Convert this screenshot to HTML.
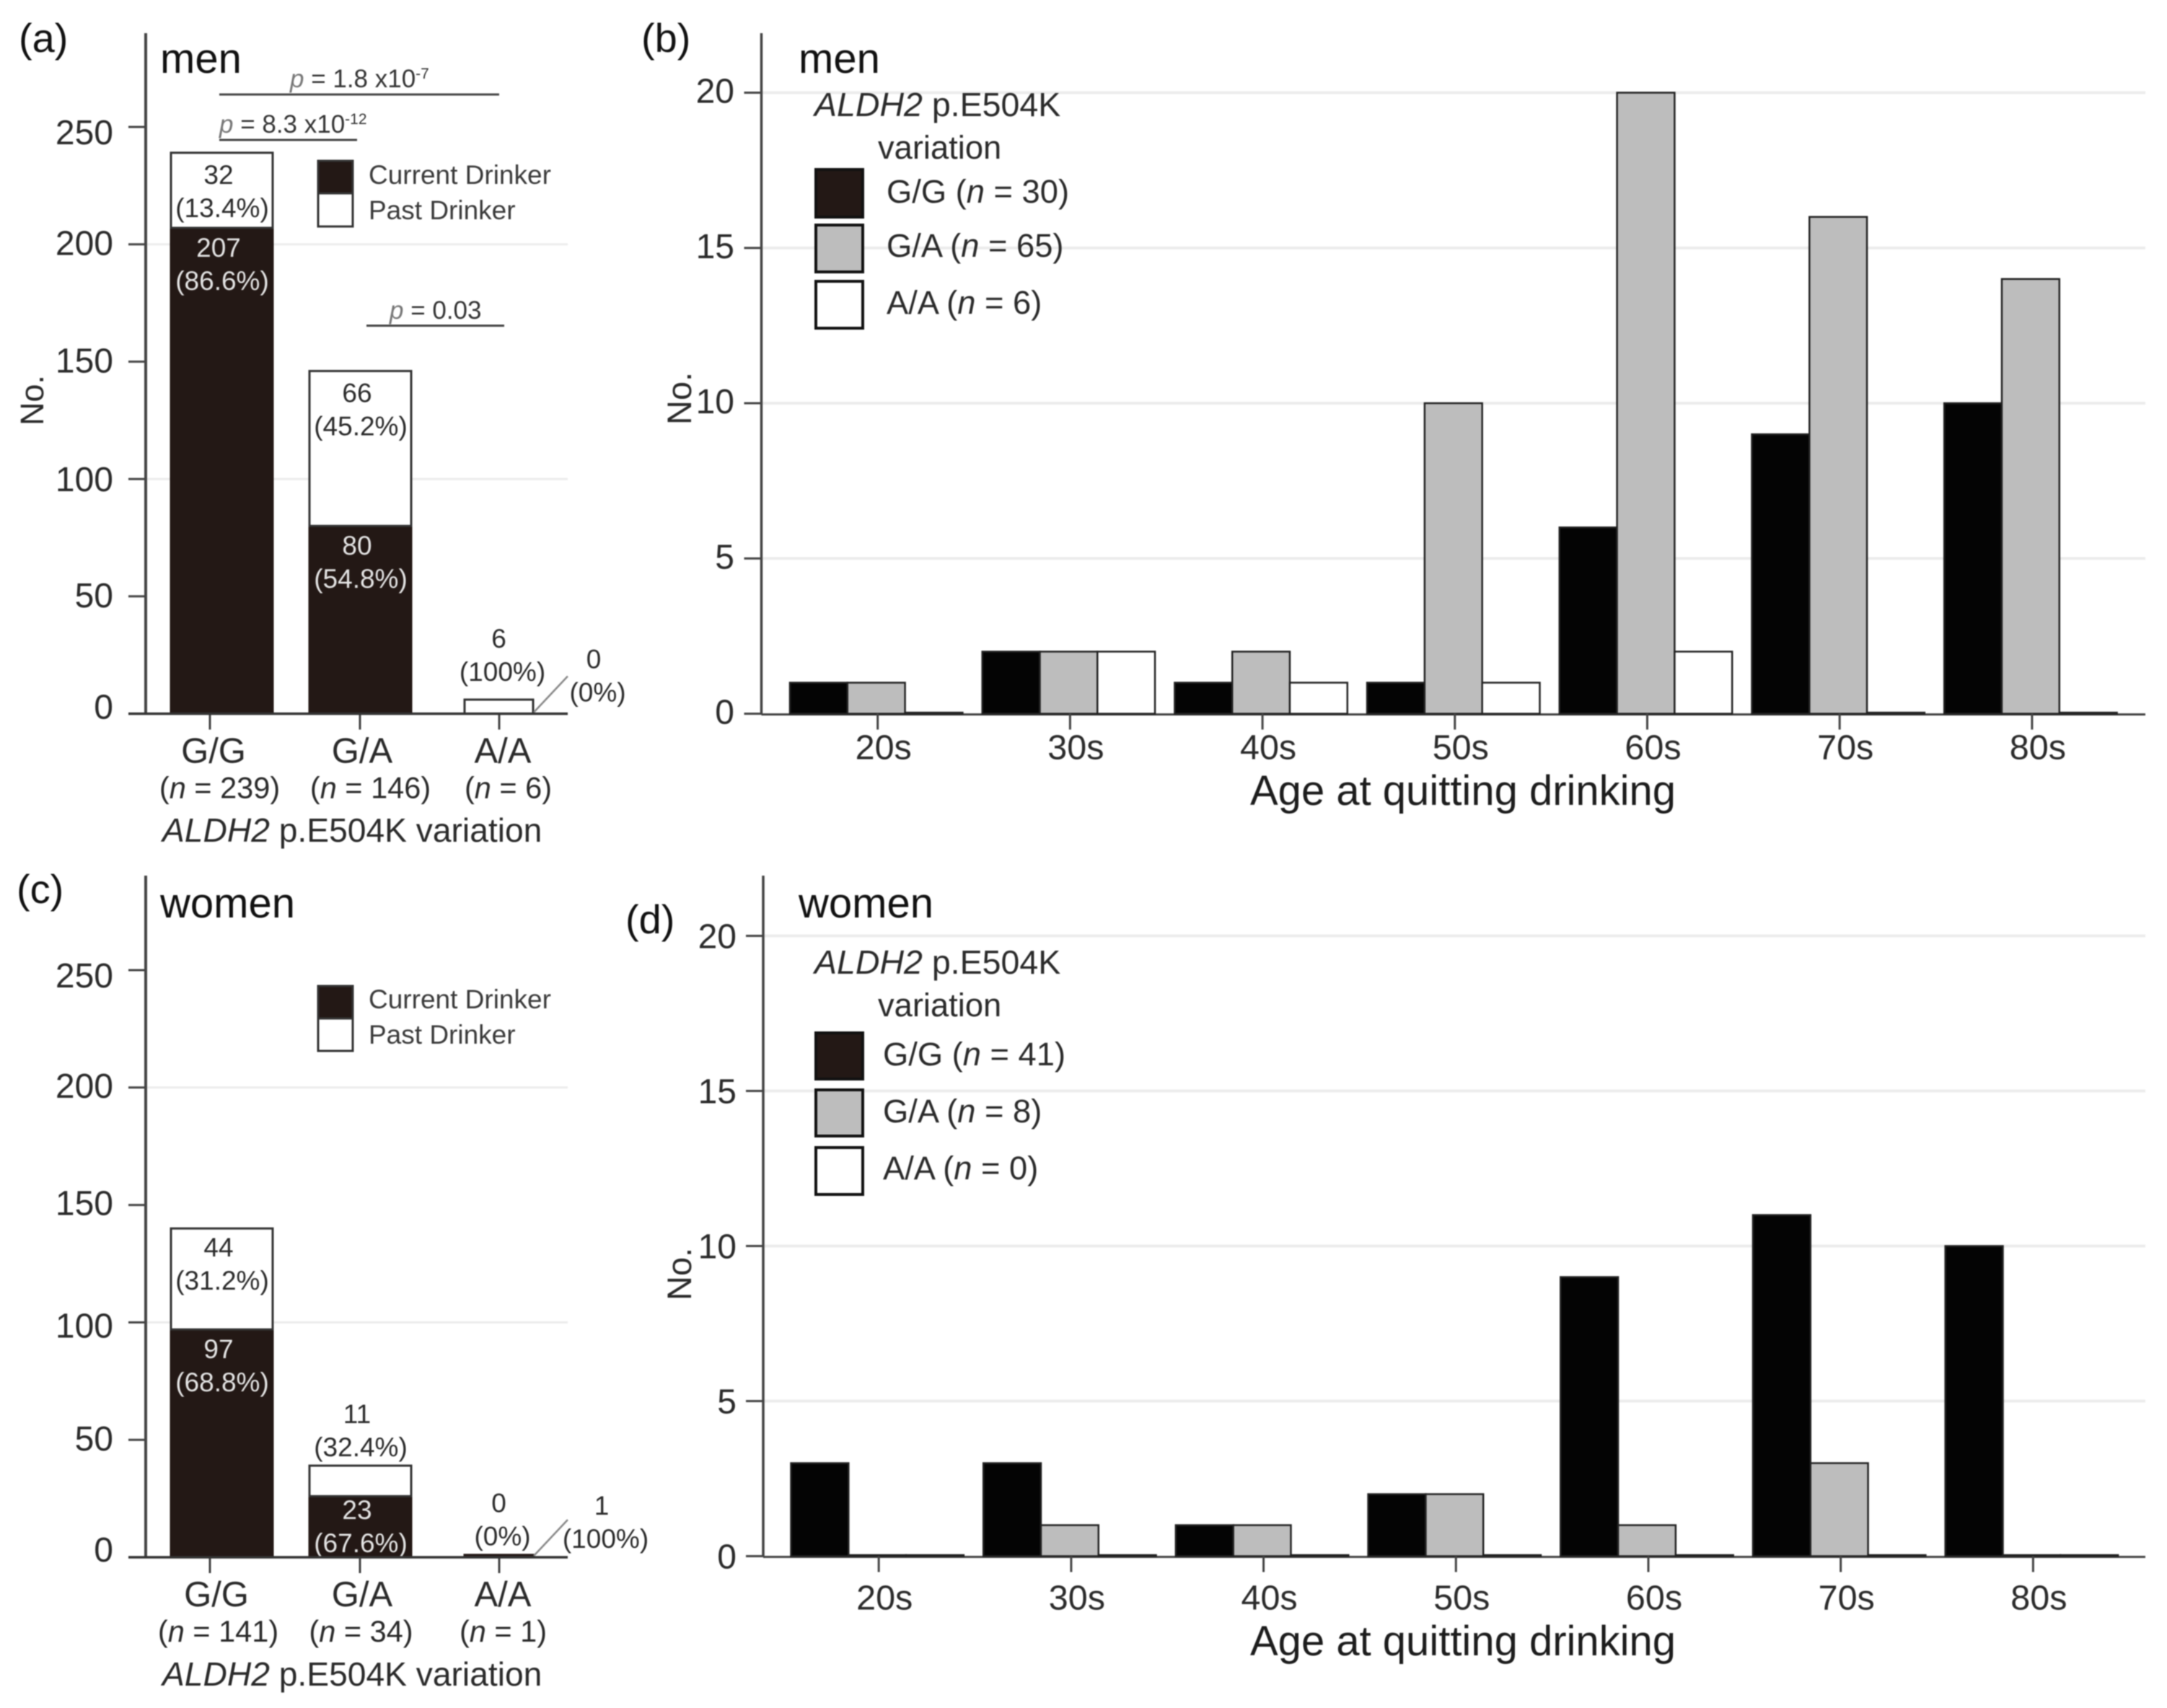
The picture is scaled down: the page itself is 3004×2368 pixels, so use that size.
<!DOCTYPE html>
<html lang="en">
<head>
<meta charset="utf-8">
<title>ALDH2 p.E504K variation and drinking status</title>
<style>
html,body{margin:0;padding:0;background:#fff;}
svg{display:block;filter:blur(0.8px);}
text{font-family:"Liberation Sans",Arial,sans-serif;fill:#2a2a2a;}
.big{font-size:58px;fill:#111;}
.panel{font-size:56px;fill:#111;}
.axis-title{font-size:46.2px;}
.age-title{font-size:58px;fill:#1c1c1c;}
.legend{font-size:37px;fill:#3a3a3a;}
.glegend{font-size:45.3px;}
.gtitle{font-size:46.5px;}
.pv{font-size:35px;fill:#333;}
.pv .it{font-style:italic;fill:#777;}
.pv .sup{font-size:21px;}
.it{font-style:italic;}
</style>
</head>
<body>
<svg id="chart" xmlns="http://www.w3.org/2000/svg" width="3004" height="2368" viewBox="0 0 3004 2368">
  <rect x="0" y="0" width="3004" height="2368" fill="#fff"/>
  <g id="layer-a"></g>
  <g id="layer-b"></g>
  <g id="layer-c"></g>
  <g id="layer-d"></g>

  <text class="panel" x="26" y="72">(a)</text>
  <text class="panel" x="889" y="72">(b)</text>
  <text class="panel" x="23" y="1252">(c)</text>
  <text class="panel" x="867" y="1294">(d)</text>

  <text class="big" x="222" y="101">men</text>
  <text class="big" x="1107" y="101">men</text>
  <text class="big" x="222" y="1272">women</text>
  <text class="big" x="1107" y="1272">women</text>

  <text class="axis-title" x="225" y="1167"><tspan class="it">ALDH2</tspan> p.E504K variation</text>
  <text class="axis-title" x="225" y="2337"><tspan class="it">ALDH2</tspan> p.E504K variation</text>
  <text class="age-title" x="1733" y="1116">Age at quitting drinking</text>
  <text class="age-title" x="1733" y="2295">Age at quitting drinking</text>

  <text font-size="45" transform="translate(60 590) rotate(-90)">No.</text>
  <text font-size="47" transform="translate(958 589) rotate(-90)">No.</text>
  <text font-size="47" transform="translate(958 1803) rotate(-90)">No.</text>

  <g stroke="#444" stroke-width="3">
    <line x1="304" y1="131" x2="692" y2="131"/>
    <line x1="304" y1="194" x2="495" y2="194"/>
    <line x1="508" y1="451.5" x2="699" y2="451.5"/>
  </g>
  <text class="pv" x="402" y="121"><tspan class="it">p</tspan> = 1.8 x10<tspan class="sup" dy="-12">-7</tspan></text>
  <text class="pv" x="304" y="184"><tspan class="it">p</tspan> = 8.3 x10<tspan class="sup" dy="-12">-12</tspan></text>
  <text class="pv" x="540" y="442"><tspan class="it">p</tspan> = 0.03</text>

  <g>
    <rect x="441" y="223" width="48" height="45" fill="#231815" stroke="#333" stroke-width="3"/>
    <rect x="441" y="268" width="48" height="46" fill="#fff" stroke="#333" stroke-width="3"/>
    <text class="legend" x="511" y="255">Current Drinker</text>
    <text class="legend" x="511" y="304">Past Drinker</text>
  </g>
  <g>
    <rect x="441" y="1367" width="48" height="45" fill="#231815" stroke="#333" stroke-width="3"/>
    <rect x="441" y="1412" width="48" height="45" fill="#fff" stroke="#333" stroke-width="3"/>
    <text class="legend" x="511" y="1398">Current Drinker</text>
    <text class="legend" x="511" y="1447">Past Drinker</text>
  </g>

  <g>
    <text class="gtitle" x="1129" y="161"><tspan class="it">ALDH2</tspan> p.E504K</text>
    <text class="glegend" x="1217" y="220">variation</text>
    <rect x="1131" y="235" width="65" height="66" fill="#231815" stroke="#111" stroke-width="4"/>
    <rect x="1131" y="312" width="65" height="65" fill="#bdbdbd" stroke="#111" stroke-width="4"/>
    <rect x="1131" y="390" width="65" height="65" fill="#fff" stroke="#111" stroke-width="4"/>
    <text class="glegend" x="1229" y="281">G/G (<tspan class="it">n</tspan> = 30)</text>
    <text class="glegend" x="1229" y="356">G/A (<tspan class="it">n</tspan> = 65)</text>
    <text class="glegend" x="1229" y="435">A/A (<tspan class="it">n</tspan> = 6)</text>
  </g>
  <g>
    <text class="gtitle" x="1129" y="1350"><tspan class="it">ALDH2</tspan> p.E504K</text>
    <text class="glegend" x="1217" y="1409">variation</text>
    <rect x="1131" y="1432" width="65" height="64" fill="#231815" stroke="#111" stroke-width="4"/>
    <rect x="1131" y="1511" width="65" height="64" fill="#bdbdbd" stroke="#111" stroke-width="4"/>
    <rect x="1131" y="1591" width="65" height="65" fill="#fff" stroke="#111" stroke-width="4"/>
    <text class="glegend" x="1224" y="1477">G/G (<tspan class="it">n</tspan> = 41)</text>
    <text class="glegend" x="1224" y="1556">G/A (<tspan class="it">n</tspan> = 8)</text>
    <text class="glegend" x="1224" y="1635">A/A (<tspan class="it">n</tspan> = 0)</text>
  </g>
</svg>
<script>
// ---- data ----
const genotypes = ['G/G', 'G/A', 'A/A'];
// heights as drawn in the picture
const menCurrent = [207, 80, 0];
const menPast = [32, 66, 6];
const womenCurrent = [97, 26, 1];
const womenPast = [43, 13, 0];
// counts as printed on the bars
const menCurrentPrinted = [207, 80, 0];
const menPastPrinted = [32, 66, 6];
const womenCurrentPrinted = [97, 23, 1];
const womenPastPrinted = [44, 11, 0];
const menCurrentPct = ['86.6', '54.8', '0'];
const menPastPct = ['13.4', '45.2', '100'];
const womenCurrentPct = ['68.8', '67.6', '100'];
const womenPastPct = ['31.2', '32.4', '0'];
const countTicks = [0, 50, 100, 150, 200, 250];
const countGrid = [100, 200];

const ageGroups = ['20s', '30s', '40s', '50s', '60s', '70s', '80s'];
const menGG = [1, 2, 1, 1, 6, 9, 10];
const menGA = [1, 2, 2, 10, 20, 16, 14];
const menAA = [0, 2, 1, 1, 2, 0, 0];
const womenGG = [3, 3, 1, 2, 9, 11, 10];
const womenGA = [0, 1, 1, 2, 1, 3, 0];
const womenAA = [0, 0, 0, 0, 0, 0, 0];
const ageTicks = [0, 5, 10, 15, 20];

// ---- helpers ----
const NS = 'http://www.w3.org/2000/svg';
function mk(parent, tag, attrs, txt) {
  const n = document.createElementNS(NS, tag);
  for (const k in attrs) n.setAttribute(k, attrs[k]);
  if (txt !== undefined) n.textContent = txt;
  parent.appendChild(n);
  return n;
}

function drawStacked(layer, cur, past, curPrinted, pastPrinted, curPct, pastPct, o) {
  const g = document.getElementById(layer);
  const y = v => o.base - v * o.unit;
  const x = i => 307.5 + 192 * i;
  const barW = i => (i === 2 ? 95 : 141);
  const tickShift = i => (i === 0 ? -16.5 : i === 1 ? -0.5 : 0.5);
  const labelShift = i => (i === 0 ? o.catShift : i === 1 ? 2.5 : 5.5);

  countGrid.forEach(v => {
    const l = mk(g, 'line', {x1: 202, x2: 787, y1: y(v), y2: y(v), stroke: '#ececec', 'stroke-width': 3});
    
    
  });
  const ya = mk(g, 'line', {x1: 202, x2: 202, y1: o.top, y2: o.base + 1, stroke: '#444', 'stroke-width': 4});
  
  

  countTicks.forEach((v, k) => {
    const tk = mk(g, 'line', {x1: 178, x2: 202, y1: y(v), y2: y(v), stroke: '#444', 'stroke-width': 3});
    
    
    const lb = mk(g, 'text', {x: 157, y: y(v) + o.tickNudge[k], 'text-anchor': 'end', 'font-size': 48}, String(v));
    
    
  });

  genotypes.forEach((name, i) => {
    const left = x(i) - barW(i) / 2;
    const total = cur[i] + past[i];
    const printedTotal = curPrinted[i] + pastPrinted[i];
    const b1 = mk(g, 'rect', {x: left, y: y(cur[i]), width: barW(i), height: cur[i] * o.unit, fill: '#231815', stroke: '#231815', 'stroke-width': 3});
    
    
    if (past[i] > 0) {
      const b2 = mk(g, 'rect', {x: left, y: y(total), width: barW(i), height: past[i] * o.unit, fill: '#fff', stroke: '#333', 'stroke-width': 3});
      
      
    }
    const curTop = y(cur[i]);
    const top = y(total);

    // past label
    const inside = past[i] * o.unit > 90;
    const shift = i === 2 ? 4.5 : 0;
    const pY1 = inside ? top + o.insideDown : top - o.aboveUp;
    const pc = mk(g, 'text', {x: x(i) - 4.5 + shift, y: pY1, 'text-anchor': 'middle', 'font-size': 37}, String(pastPrinted[i]));
    
    
    const pp = mk(g, 'text', {x: x(i) + 0.5 + shift, y: pY1 + 46, 'text-anchor': 'middle', 'font-size': 37}, '(' + pastPct[i] + '%)');
    
    

    // current label
    if (cur[i] * o.unit > 60) {
      const c1 = Math.min(curTop + 40, o.base - 53);
      const cc = mk(g, 'text', {x: x(i) - 4.5, y: c1, 'text-anchor': 'middle', 'font-size': 37, style: 'fill:#e4e4e4'}, String(curPrinted[i]));
      
      
      const cp = mk(g, 'text', {x: x(i) + 0.5, y: c1 + 46, 'text-anchor': 'middle', 'font-size': 37, style: 'fill:#e4e4e4'}, '(' + curPct[i] + '%)');
      
      
    } else {
      const cc = mk(g, 'text', {x: x(i) + o.sideDx, y: o.base - o.sideUp, 'text-anchor': 'middle', 'font-size': 37}, String(curPrinted[i]));
      
      
      const cp = mk(g, 'text', {x: x(i) + o.sideDx + 5.5, y: o.base - o.sideUp + 46, 'text-anchor': 'middle', 'font-size': 37}, '(' + curPct[i] + '%)');
      
      
      const dg = mk(g, 'line', {x1: left + barW(i) + 1, y1: o.base - 2, x2: left + barW(i) + 48, y2: o.base - 52, stroke: '#888', 'stroke-width': 2.5});
      
      
    }

    // x tick + labels
    const xt = mk(g, 'line', {x1: x(i) + tickShift(i), x2: x(i) + tickShift(i), y1: o.base, y2: o.base + 22, stroke: '#444', 'stroke-width': 3});
    
    
    const cat = mk(g, 'text', {x: x(i) + labelShift(i), y: o.base + 68, 'text-anchor': 'middle', 'font-size': 49}, name);
    
    
    const nShift = i === 0 ? o.nShift0 : i === 1 ? o.nShift1 : o.nShift2;
    const nl = mk(g, 'text', {x: x(i) + nShift, y: o.base + 117, 'text-anchor': 'middle', 'font-size': 41.5});
    
    
    mk(nl, 'tspan', {}, '(');
    mk(nl, 'tspan', {class: 'it'}, 'n');
    mk(nl, 'tspan', {}, ' = ' + printedTotal + ')');
  });

  const xa = mk(g, 'line', {x1: 178, x2: 787, y1: o.base, y2: o.base, stroke: '#333', 'stroke-width': 3.5});
  
  
}

function drawGrouped(layer, gg, ga, aa, o) {
  const g = document.getElementById(layer);
  const y = v => o.base - v * o.unit;
  const groupLeft = i => o.left + 266.7 * i;
  const barW = 79.8;
  const series = [gg, ga, aa];
  const fills = ['#040404', '#bdbdbd', '#ffffff'];
  const seriesNames = ['bar-gg', 'bar-ga', 'bar-aa'];

  ageTicks.forEach(v => {
    if (v > 0) {
      const l = mk(g, 'line', {x1: o.axis, x2: 2974, y1: y(v), y2: y(v), stroke: '#ececec', 'stroke-width': 4});
      
      
    }
    const tk = mk(g, 'line', {x1: o.axis - 24, x2: o.axis, y1: y(v), y2: y(v), stroke: '#444', 'stroke-width': 3});
    
    
    const lb = mk(g, 'text', {x: o.tickRight, y: y(v) + o.tickDy, 'text-anchor': 'end', 'font-size': 48}, String(v));
    
    
  });
  const ya = mk(g, 'line', {x1: o.axis, x2: o.axis, y1: o.top, y2: o.base + 1, stroke: '#444', 'stroke-width': 3.5});
  
  

  const xa = mk(g, 'line', {x1: o.axis, x2: 2974, y1: o.base + 1, y2: o.base + 1, stroke: '#444', 'stroke-width': 3});
  
  

  ageGroups.forEach((name, i) => {
    series.forEach((vals, j) => {
      const v = vals[i];
      // zero counts still show as a thin dark bar on the baseline
      const h = Math.max(v * o.unit, 1.5);
      const r = mk(g, 'rect', {x: groupLeft(i) + j * barW, y: o.base - h, width: barW, height: h, fill: fills[j], stroke: '#222', 'stroke-width': 2.5});
      
      
    });
    const c = groupLeft(i) + 1.5 * barW;
    const xt = mk(g, 'line', {x1: c + 2, x2: c + 2, y1: o.base, y2: o.base + 22, stroke: '#444', 'stroke-width': 3});
    
    
    const lb = mk(g, 'text', {x: c + 10, y: o.base + o.labelDy, 'text-anchor': 'middle', 'font-size': 48.5}, name);
    
    
  });
}

drawStacked('layer-a', menCurrent, menPast, menCurrentPrinted, menPastPrinted, menCurrentPct, menPastPct,
  {base: 989.5, unit: 3.254, top: 46, catShift: -11.5, sideDx: 131.5, sideUp: 63, aboveUp: 72, insideDown: 43, nShift0: -3, nShift1: 14, nShift2: 13, tickNudge: [7, 15, 17, 15, 15, 24]});
drawStacked('layer-c', womenCurrent, womenPast, womenCurrentPrinted, womenPastPrinted, womenCurrentPct, womenPastPct,
  {base: 2159, unit: 3.256, top: 1214, catShift: -7.5, sideDx: 142.5, sideUp: 59, aboveUp: 59, insideDown: 39, nShift0: -5, nShift1: 1, nShift2: 6, tickNudge: [6, 15, 21, 14, 14, 24]});
drawGrouped('layer-b', menGG, menGA, menAA,
  {base: 989.5, unit: 43.05, top: 46, axis: 1055.5, left: 1095, tickRight: 1018, tickDy: 14, labelDy: 63});
drawGrouped('layer-d', womenGG, womenGA, womenAA,
  {base: 2157.5, unit: 43, top: 1214, axis: 1058, left: 1096.5, tickRight: 1021, tickDy: 17, labelDy: 74});
</script>
</body>
</html>
